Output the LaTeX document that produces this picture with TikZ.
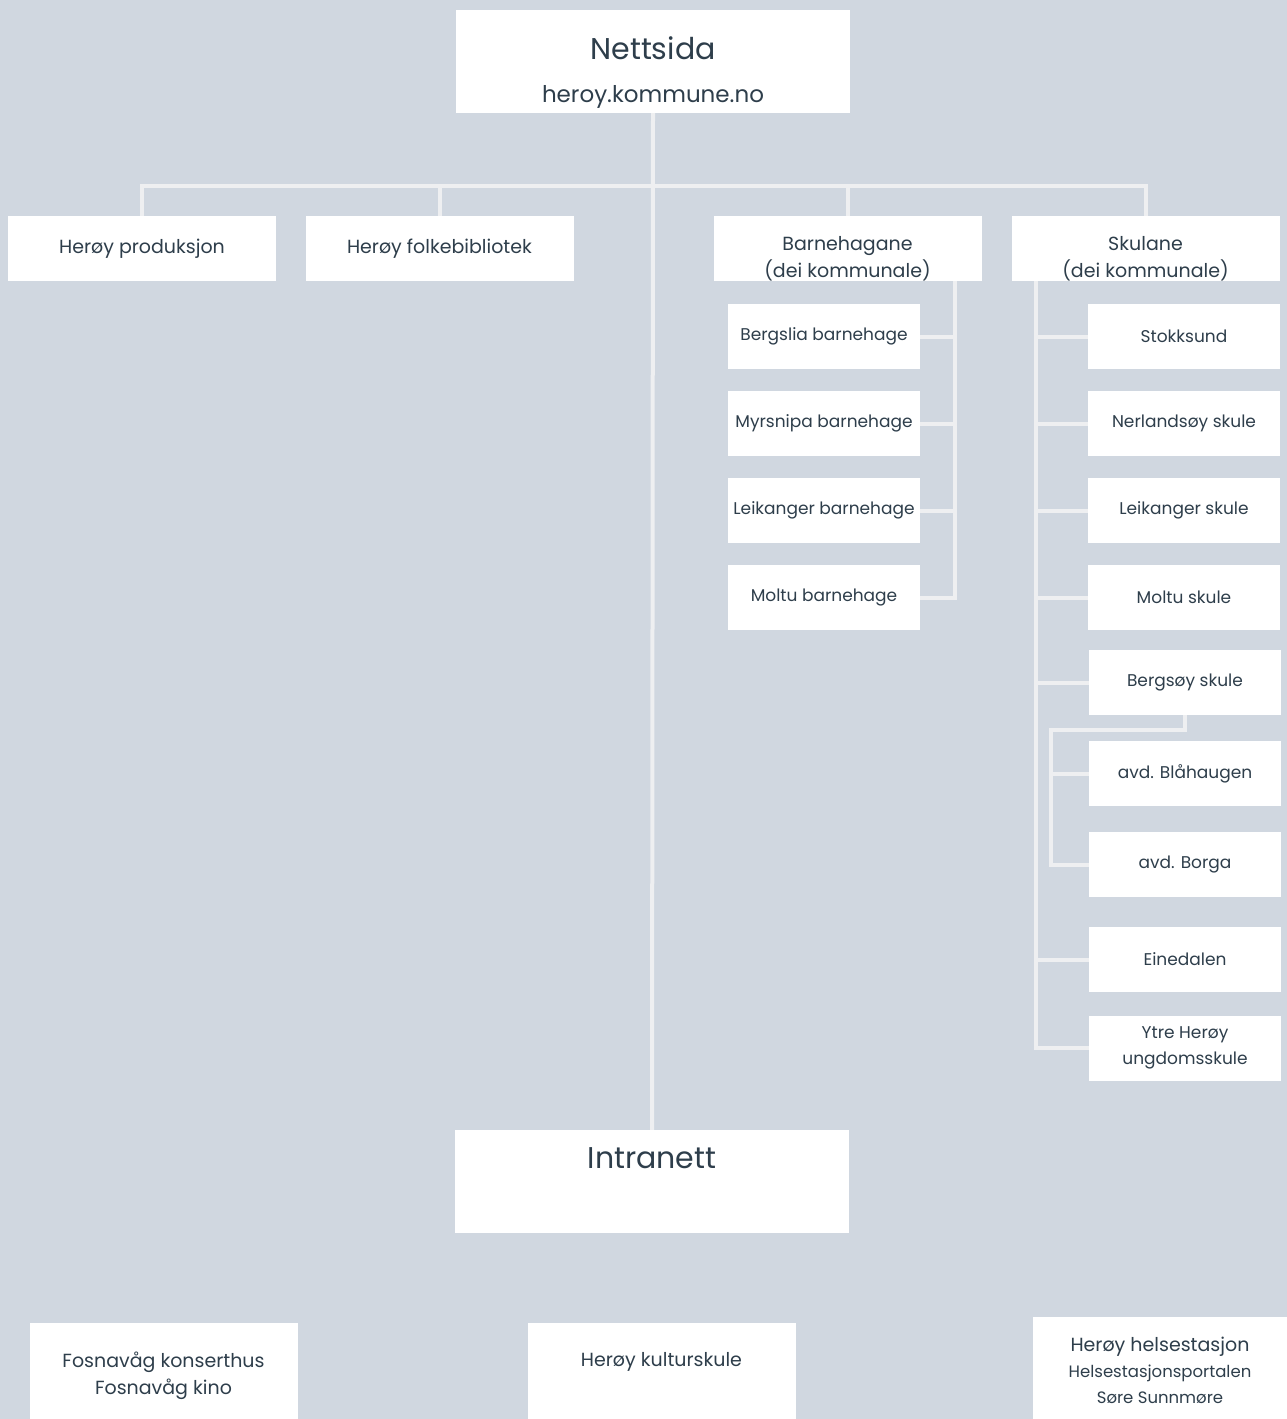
\documentclass[tikz,border=0pt]{standalone}
\usepackage{fontspec}
\setmainfont{Poppins}
\definecolor{bgblue}{HTML}{D0D7E0}
\definecolor{linegray}{HTML}{EEEFF1}
\definecolor{inkblue}{HTML}{2E3E4B}
\tikzset{
	box/.style={fill=white, inner sep=0pt, text=inkblue, align=center,
		minimum width=268pt, minimum height=65pt, font=\fontsize{19}{27}\selectfont},
	kidbox/.style={box, minimum width=192pt, font=\fontsize{17}{26}\selectfont},
	lbl/.style={text=inkblue, align=center, font=\fontsize{19}{27}\selectfont},
	conn/.style={draw=linegray, line width=4pt},
}
\begin{document}
\begin{tikzpicture}[x=1pt, y=-1pt]
	\useasboundingbox (0,0) rectangle (1287,1419);
	\clip (0,0) rectangle (1287,1419);
	\fill[bgblue] (0,0) rectangle (1287,1419);
	% top and bottom of the trunk
	\node[box, minimum width=394pt, minimum height=103pt,
		label={[lbl, font=\fontsize{30}{30}\selectfont, yshift=13pt]center:Nettsida},
		label={[lbl, font=\fontsize{23}{23}\selectfont, yshift=-35pt]center:heroy.kommune.no}] (nett) at (653,61.5) {};
	\node[box, minimum width=394pt, minimum height=103pt,
		label={[lbl, font=\fontsize{30}{30}\selectfont, yshift=23pt]center:Intranett}] (intra) at (652,1181.5) {};
	% first row
	\node[box] (prod) at (142,248.5) {Herøy produksjon};
	\node[box] (bibl) at (439.5,248.5) {Herøy folkebibliotek};
	\node[box, label={[lbl, yshift=-10pt]center:Barnehagane\\(dei kommunale)}] (barn) at (847.5,248.5) {};
	\node[box, label={[lbl, yshift=-10pt]center:Skulane\\(dei kommunale)}] (skul) at (1145.5,248.5) {};
	% barnehagar
	\node[kidbox] (bh1) at (824,336.5) {Bergslia barnehage};
	\node[kidbox] (bh2) at (824,423.5) {Myrsnipa barnehage};
	\node[kidbox] (bh3) at (824,510.5) {Leikanger barnehage};
	\node[kidbox] (bh4) at (824,597.5) {Moltu barnehage};
	% skular
	\node[kidbox] (sk1) at (1184,336.5) {Stokksund};
	\node[kidbox] (sk2) at (1184,423.5) {Nerlandsøy skule};
	\node[kidbox] (sk3) at (1184,510.5) {Leikanger skule};
	\node[kidbox] (sk4) at (1184,597.5) {Moltu skule};
	\node[kidbox] (sk5) at (1185,682.5) {Bergsøy skule};
	\node[kidbox] (sk6) at (1185,773.5) {avd. Blåhaugen};
	\node[kidbox] (sk7) at (1185,864.5) {avd. Borga};
	\node[kidbox] (sk8) at (1185,959.5) {Einedalen};
	\node[kidbox] (sk9) at (1185,1048) {Ytre Herøy\\ungdomsskule};
	% nedst
	\node[box, minimum height=120pt,
		label={[lbl, yshift=7pt]center:Fosnavåg konserthus\\Fosnavåg kino}] (konsert) at (163.5,1383) {};
	\node[box, minimum height=120pt,
		label={[lbl, yshift=21pt]center:Herøy kulturskule}] (kultur) at (661.5,1383) {};
	\node[box, minimum width=254pt, minimum height=120pt,
		label={[lbl, yshift=7pt]center:Herøy helsestasjon\\[-1pt]{\fontsize{16.5}{26}\selectfont Helsestasjonsportalen}\\[-1pt]{\fontsize{16.5}{26}\selectfont Søre Sunnmøre}}] (helse) at (1160,1377) {};
	\coordinate (bus) at (652,186);
	\coordinate (bhrail) at (955,281);
	\coordinate (skrail) at (1036,281);
	\coordinate (subrail) at (1051,730);
	% connectors
	\draw[conn] (nett.south) -- (intra.north);
	\draw[conn] (prod.north) |- (bus) -| (skul.north);
	\draw[conn] (bibl.north) -- (bibl.north |- bus);
	\draw[conn] (barn.north) -- (barn.north |- bus);
	\draw[conn] (bhrail) -- (bh4.east -| bhrail) -- (bh4.east);
	\foreach \i in {1,2,3}
		\draw[conn] (bh\i.east) -- (bh\i.east -| bhrail);
	\draw[conn] (skrail) -- (sk9.west -| skrail) -- (sk9.west);
	\foreach \i in {1,2,3,4,5,8}
		\draw[conn] (sk\i.west) -- (sk\i.west -| skrail);
	\draw[conn] (sk5.south) |- (subrail) |- (sk7.west);
	\draw[conn] (sk6.west) -- (sk6.west -| subrail);
\end{tikzpicture}
\end{document}
